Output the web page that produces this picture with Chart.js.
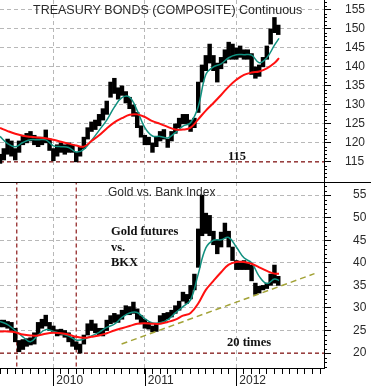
<!DOCTYPE html>
<html>
<head>
<meta charset="utf-8">
<script src="https://cdn.jsdelivr.net/npm/chart.js@4/dist/chart.umd.min.js"></script>
<style>
  html, body { margin: 0; padding: 0; background: #fff; }
  canvas { display: block; }
</style>
</head>
<body>
<canvas id="chart" width="371" height="387"></canvas>
<script>
// x values are months counted from Jan 2009 (12 = Jan 2010)
var startMonth = 5;
var stepMonths = 0.5;

// treasury bond bars, one per half month
var bondLow = [114.6,115.5,117,116.5,115.5,117.5,119.5,120,120.5,119.5,119,119.5,120,118,115.3,116.5,117.5,117,117.5,117.5,
  115,116.5,118.5,121,123,123.5,124.5,126,127.5,132,133,131.5,132.5,130.5,129,127,124,121.5,119.5,119.5,
  117.5,119,120.5,121,118.8,120.5,122.5,124,125,125,123,124,128,136,139,141,139,136,139.5,141,
  142,142,142,142.5,142,142,138,137,137.5,140,142,146,149,148.5];
var bondHigh = [117,118.5,121,120.5,118.5,120.5,122,122.5,123,122,121.5,121.5,123.4,121,118.5,119.5,120,119.5,120,119.5,
  117.5,119,121.5,124,125.5,126,127.5,129,131,136,137,134.5,135,133.5,132,130,128,124.5,122,121.5,
  120,121.5,123,123.5,121,123,125,126.5,127.5,127.5,126,126.5,136,140.5,143,146,143,141,142.5,144.5,
  146.5,146,145,145.5,144.5,144.5,143.5,140,140.5,142.5,145.5,150,153,151];

// gold / BKX ratio bars, one per half month
var ratioLow = [25.8,25.8,25.5,25,22.5,20.3,20.8,21.5,21.8,22,24,25.5,26,25,24.5,23.8,24,23.5,22.5,21.5,
  20.8,20,22,24,25,24.5,24,23.8,25,26.5,26.8,26.8,27.5,28.5,28.5,28.8,27.5,26.5,25.5,25.3,
  24.7,24.8,26.5,27,27.5,28,28.8,29.5,31.5,31,32,34,39,46,46.5,46,44,42,43.5,45.5,
  43.5,40.5,38.5,38.5,38.5,38.5,36,33,33.3,34,34.3,35,35.5,35];
var ratioHigh = [27.3,27.3,27,26.8,25.5,22.8,23,23.2,23.4,24.5,26.8,27.5,28.4,26.8,26,25.2,25.3,25,24.5,23.5,
  22.5,22,24,26.5,27.3,26.5,25.5,25.5,27.3,28.3,28.8,28.5,29.5,30.5,30.3,31.3,29.8,28.3,27.5,26.8,
  26,26.5,28.3,28.8,29,29.5,30.5,31.5,33.5,33,35,37.5,47.5,55,51,50.5,47,45,46.8,48.8,
  47,43.5,40.5,40,40.5,40,39.5,35.5,34.8,35,35.5,37.5,39.5,37];

// moving averages, read monthly
var maMonths = [5,6,7,8,9,10,11,12,13,14,15,16,17,18,19,20,21,22,23,24,25,26,27,28,29,30,31,32,33,34,35,36,37,38,39,40,41,41.6];
var bondFast = [121.7,119.8,119.0,120.1,120.8,120.8,120.8,119.2,119.0,118.8,117.6,118.3,120.6,123.3,126.0,129.4,131.9,132.0,128.5,124.0,
  121.8,121.7,121.3,122.7,124.4,125.3,129.5,138.0,140.0,140.8,142.4,143.2,143.2,143.1,141.1,142.4,145.7,147.5];
var bondSlow = [123.9,123.1,122.4,121.9,121.6,121.4,121.2,120.8,120.3,119.8,119.3,119.0,120.5,122.0,123.8,125.4,126.5,127.4,127.5,126.8,
  125.7,125.0,124.2,123.5,123.5,124.0,126.2,128.5,130.5,132.6,134.8,136.6,137.9,138.5,138.8,139.6,141.0,142.3];
var ratioFast = [27.0,26.3,25.0,23.6,22.5,24.0,25.2,24.8,24.3,23.8,22.9,23.1,23.8,24.6,25.7,26.4,27.9,28.9,29.0,27.6,
  26.7,26.7,27.4,28.9,30.3,31.8,37.5,43.3,45.0,45.1,45.6,43.5,41.1,40.0,37.0,35.4,36.4,36.1];
var ratioSlow = [24.8,24.8,24.6,24.1,23.9,23.9,24.3,24.5,24.4,24.1,23.6,23.4,23.6,23.9,24.4,25.0,25.5,26.0,26.5,26.6,
  26.5,26.5,26.9,27.4,28.3,28.9,31.0,34.0,36.0,37.9,39.6,40.2,40.2,39.8,39.0,38.2,37.6,37.6];

// value axis labels
var bondTicks = [115, 120, 125, 130, 135, 140, 145, 150, 155];
var ratioTicks = [20, 25, 30, 35, 40, 45, 50, 55];

// markers
var eventMonths = [7.2, 15.0];
var bondFloor = 115;
var ratioFloor = 20;
var trendMonths = [20.95, 46.25];
var trendValues = [22, 37.6];
var yearMonths = [12, 24, 36];
var yearLabels = ['2010', '2011', '2012'];

var topTitle = 'TREASURY BONDS (COMPOSITE) Continuous';
var bottomTitle = 'Gold vs. Bank Index';
var noteLines = ['Gold futures', 'vs.', 'BKX'];

var xMin = 5, xMax = 47.5;

var monthAt = (i) => startMonth + i * stepMonths;
var bars = (lo, hi) => lo.map((v, i) => ({ x: monthAt(i), y: [v, hi[i]] }));
var pts = (xs, ys) => xs.map((m, i) => ({ x: m, y: ys[i] }));

var axisFit = (w, h) => (s) => {
  if (w) s.width = w;
  if (h) s.height = h;
  s.paddingTop = 0; s.paddingBottom = 0; s.paddingLeft = 0; s.paddingRight = 0;
};

var panelMarks = {
  id: 'panelMarks',
  afterDraw: function (chart) {
    var c = chart.ctx;
    var area = chart.chartArea;
    var x = chart.scales.x, top = chart.scales.yTop, bottom = chart.scales.yBottom;
    c.save();
    c.strokeStyle = '#000';
    c.lineWidth = 1;
    // small ticks on the value axes
    [top, bottom].forEach(function (s) {
      for (var v = Math.ceil(s.min); v <= s.max; v++) {
        if (v % 5 === 0) continue;
        var py = Math.round(s.getPixelForValue(v)) + 0.5;
        c.beginPath(); c.moveTo(s.left, py); c.lineTo(s.left + 3, py); c.stroke();
      }
    });
    // long year ticks
    yearMonths.forEach(function (m) {
      var px = Math.round(x.getPixelForValue(m)) + 0.5;
      c.beginPath(); c.moveTo(px, area.bottom); c.lineTo(px, chart.height - 1); c.stroke();
    });
    // panel separator
    var sep = Math.round(top.bottom) + 0.5;
    c.beginPath(); c.moveTo(0, sep); c.lineTo(chart.width, sep); c.stroke();

    c.textBaseline = 'middle';
    c.fillStyle = '#2a2a2a';
    c.font = '12.5px "Liberation Sans", Arial, sans-serif';
    c.fillText(topTitle, area.left + 33, top.top + 11);
    c.font = '12px "Liberation Sans", Arial, sans-serif';
    c.fillText(bottomTitle, area.left + 108, bottom.top + 11);
    c.fillStyle = '#111';
    c.font = 'bold 12.5px "Liberation Serif", "Times New Roman", serif';
    noteLines.forEach(function (t, i) {
      c.fillText(t, area.left + 111, bottom.top + 50 + i * 15.5);
    });
    c.fillText(String(bondFloor), area.left + 228, top.getPixelForValue(bondFloor) - 5);
    c.fillText(ratioFloor + ' times', area.left + 227, bottom.getPixelForValue(ratioFloor) - 10);
    c.restore();
  }
};

var guide = { type: 'line', borderColor: '#8b1a1a', borderWidth: 1.2, borderDash: [4, 3], pointRadius: 0, order: 3 };
var priceBar = { type: 'bar', backgroundColor: '#000', barThickness: 3.8, grouped: false, order: 2 };

var datasets = [
  { type: 'line', data: pts(maMonths, bondSlow), yAxisID: 'yTop', borderColor: '#ff1010', borderWidth: 2, pointRadius: 0, tension: 0.4, order: 1 },
  { type: 'line', data: pts(maMonths, bondFast), yAxisID: 'yTop', borderColor: '#10907f', borderWidth: 1.5, pointRadius: 0, tension: 0.4, order: 1 },
  { type: 'line', data: pts(maMonths, ratioSlow), yAxisID: 'yBottom', borderColor: '#ff1010', borderWidth: 2, pointRadius: 0, tension: 0.4, order: 1 },
  { type: 'line', data: pts(maMonths, ratioFast), yAxisID: 'yBottom', borderColor: '#10907f', borderWidth: 1.5, pointRadius: 0, tension: 0.4, order: 1 },
  Object.assign({ data: bars(bondLow, bondHigh), yAxisID: 'yTop' }, priceBar),
  Object.assign({ data: bars(ratioLow, ratioHigh), yAxisID: 'yBottom' }, priceBar),
  { type: 'line', data: pts(trendMonths, trendValues), yAxisID: 'yBottom', borderColor: '#a3a337', borderWidth: 1.5, borderDash: [6, 4], pointRadius: 0, order: 0 },
  Object.assign({ data: [{ x: xMin, y: bondFloor }, { x: xMax, y: bondFloor }], yAxisID: 'yTop' }, guide),
  Object.assign({ data: [{ x: xMin, y: ratioFloor }, { x: xMax, y: ratioFloor }], yAxisID: 'yBottom' }, guide)
].concat(eventMonths.map(m => Object.assign({ data: [{ x: m, y: 0 }, { x: m, y: 200 }], yAxisID: 'yBottom' }, guide)));

var valueAxis = (min, max, weight, pad, labels) => ({
  type: 'linear',
  position: 'right',
  stack: 'panels',
  stackWeight: weight,
  min: min,
  max: max,
  afterFit: axisFit(47, 0),
  afterBuildTicks: (s) => { s.ticks = labels.map(v => ({ value: v })); },
  border: { display: true, color: '#000', width: 1, dash: [4, 3] },
  grid: { color: '#b8b8b8', tickColor: '#000', tickLength: 7, lineWidth: 1 },
  ticks: {
    autoSkip: false,
    padding: pad,
    crossAlign: 'near',
    color: '#2a2a2a',
    font: { family: '"Liberation Sans", Arial, sans-serif', size: 12 },
    callback: (v) => String(v)
  }
});

var chart = new Chart(document.getElementById('chart'), {
  type: 'line',
  data: { datasets: datasets },
  options: {
    responsive: false,
    animation: false,
    events: [],
    layout: { padding: 0 },
    plugins: { legend: { display: false }, tooltip: { enabled: false } },
    scales: {
      x: {
        type: 'linear',
        min: xMin,
        max: xMax,
        offset: false,
        afterFit: axisFit(0, 19),
        border: { display: true, color: '#000', width: 1, dash: [4, 3] },
        grid: {
          offset: false,
          color: (ctx) => yearMonths.indexOf(ctx.tick && ctx.tick.value) >= 0 ? '#b8b8b8' : 'rgba(0,0,0,0)',
          tickColor: '#000',
          tickLength: 6
        },
        ticks: {
          stepSize: 1,
          maxTicksLimit: 100,
          includeBounds: false,
          autoSkip: false,
          maxRotation: 0,
          align: 'start',
          labelOffset: 3,
          padding: -1,
          color: '#2a2a2a',
          font: { family: '"Liberation Sans", Arial, sans-serif', size: 12 },
          callback: (v) => {
            var k = yearMonths.indexOf(v);
            return k >= 0 ? yearLabels[k] : '';
          }
        }
      },
      yTop: valueAxis(109.7, 157.6, 182, 14, bondTicks),
      yBottom: valueAxis(16.7, 57.9, 186, 22, ratioTicks)
    }
  },
  plugins: [panelMarks]
});
</script>
</body>
</html>
